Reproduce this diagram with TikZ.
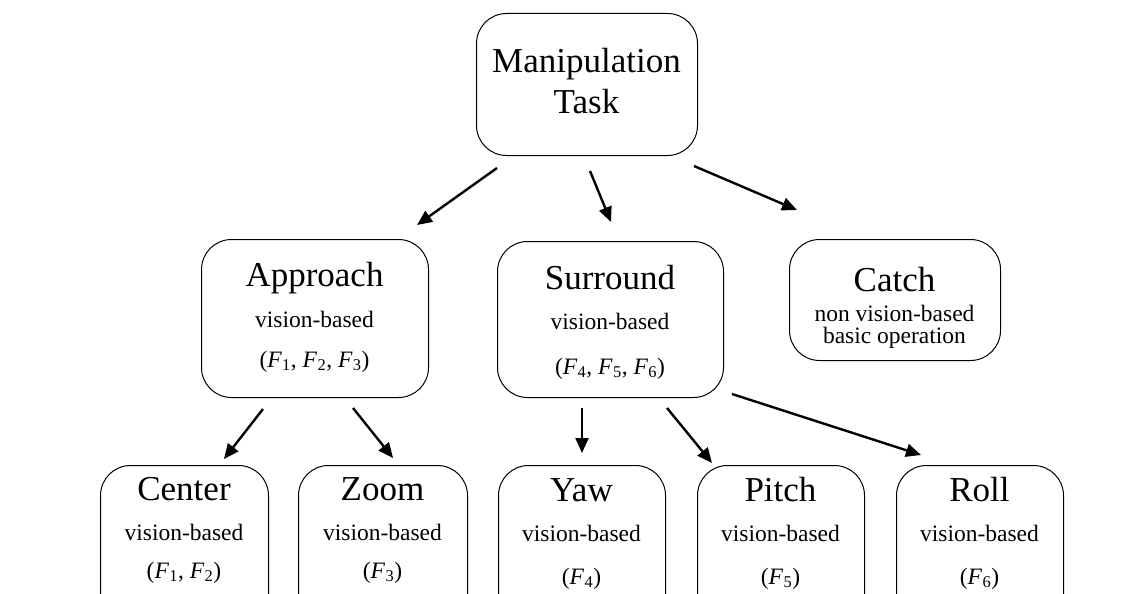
\documentclass[tikz,border=0pt]{standalone}
\usepackage{fontspec}
\setmainfont{Liberation Serif}
\usetikzlibrary{arrows.meta}
\newcommand\FF[1]{\textit{F}\kern0.3pt\textsubscript{#1}}
\begin{document}
\begin{tikzpicture}[x=1pt,y=-1pt,
  box/.style={draw, line width=1pt, rounded corners=30pt, inner sep=0pt, anchor=north west},
  ttl/.style={anchor=base, inner sep=0pt, font=\fontsize{35}{40}\selectfont},
  sub/.style={anchor=base, inner sep=0pt, font=\fontsize{23.5}{27}\selectfont},
  arr/.style={line width=2.4pt, -{Triangle[length=15pt,width=13pt]}}]
\useasboundingbox (0,0) rectangle (1140,594);
\clip (0,0) rectangle (1140,594);
\fill[white] (0,0) rectangle (1140,594);

% top
\node[box, minimum width=221pt, minimum height=142pt] (man) at (476,13) {};
\node[ttl] (man1) at (586.5,73) {Manipulation};
\node[ttl] (man2) at (586.5,113) {Task};

% middle row
\node[box, minimum width=227pt, minimum height=158pt] (app) at (201,239) {};
\node[ttl] (app1) at (314.5,286) {Approach};
\node[sub] (app2) at (314.5,327) {vision-based};
\node[sub] (app3) at (314.5,367) {(\FF{1}, \FF{2}, \FF{3})};

\node[box, minimum width=226pt, minimum height=156pt] (sur) at (497,241) {};
\node[ttl] (sur1) at (610,289) {Surround};
\node[sub] (sur2) at (610,329) {vision-based};
\node[sub] (sur3) at (610,374) {(\FF{4}, \FF{5}, \FF{6})};

\node[box, minimum width=211pt, minimum height=121pt] (cat) at (789,239) {};
\node[ttl] (cat1) at (894.5,291) {Catch};
\node[sub, align=center, font=\fontsize{23.5}{22}\selectfont] (cat2) at (894.5,343) {non vision-based\\basic operation};

% bottom row
\node[box, minimum width=168pt, minimum height=160pt] (cen) at (100,465) {};
\node[ttl] (cen1) at (184,500) {Center};
\node[sub] (cen2) at (184,540) {vision-based};
\node[sub] (cen3) at (184,578) {(\FF{1}, \FF{2})};

\node[box, minimum width=169pt, minimum height=160pt] (zoo) at (298,465) {};
\node[ttl] (zoo1) at (382.5,500) {Zoom};
\node[sub] (zoo2) at (382.5,540) {vision-based};
\node[sub] (zoo3) at (382.5,578) {(\FF{3})};

\node[box, minimum width=167pt, minimum height=160pt] (yaw) at (498,465) {};
\node[ttl] (yaw1) at (581.5,501) {Yaw};
\node[sub] (yaw2) at (581.5,541) {vision-based};
\node[sub] (yaw3) at (581.5,584) {(\FF{4})};

\node[box, minimum width=167pt, minimum height=160pt] (pit) at (697,465) {};
\node[ttl] (pit1) at (780.5,501) {Pitch};
\node[sub] (pit2) at (780.5,541) {vision-based};
\node[sub] (pit3) at (780.5,584) {(\FF{5})};

\node[box, minimum width=167pt, minimum height=160pt] (rol) at (896,465) {};
\node[ttl] (rol1) at (979.5,501) {Roll};
\node[sub] (rol2) at (979.5,541) {vision-based};
\node[sub] (rol3) at (979.5,584) {(\FF{6})};

% arrow ends
\coordinate (a1s) at (497,168); \coordinate (a1e) at (417,225);
\coordinate (a2s) at (590,171); \coordinate (a2e) at (611,222);
\coordinate (a3s) at (694,166); \coordinate (a3e) at (797,210);
\coordinate (a4s) at (263,409); \coordinate (a4e) at (224,459);
\coordinate (a5s) at (353,408); \coordinate (a5e) at (393,458);
\coordinate (a6s) at (582,408); \coordinate (a6e) at (582,453);
\coordinate (a7s) at (667,408); \coordinate (a7e) at (712,463);
\coordinate (a8s) at (732,394); \coordinate (a8e) at (921,455);

\draw[arr] (a1s) -- (a1e);
\draw[arr] (a2s) -- (a2e);
\draw[arr] (a3s) -- (a3e);
\draw[arr] (a4s) -- (a4e);
\draw[arr] (a5s) -- (a5e);
\draw[arr] (a6s) -- (a6e);
\draw[arr] (a7s) -- (a7e);
\draw[arr] (a8s) -- (a8e);
\end{tikzpicture}
\end{document}
